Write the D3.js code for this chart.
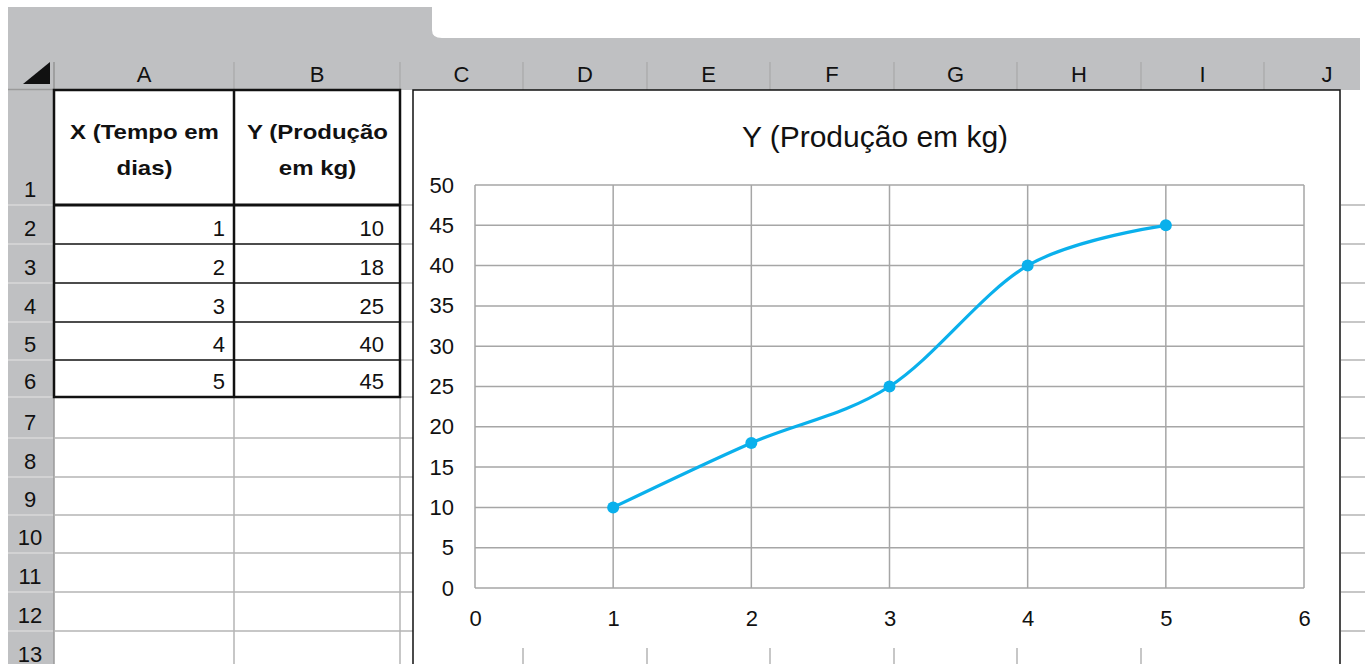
<!DOCTYPE html>
<html>
<head>
<meta charset="utf-8">
<script src="https://cdn.jsdelivr.net/npm/d3@7"></script>
<style>
  body { margin: 0; background: #fff; }
  svg text { font-family: "Liberation Sans", Arial, sans-serif; fill: #111; }
</style>
</head>
<body>
<div id="sheet"></div>
<script>
// data
var colLabels = ["A","B","C","D","E","F","G","H","I","J"];
var rowLabels = ["1","2","3","4","5","6","7","8","9","10","11","12","13"];
var headerX = ["X (Tempo em", "dias)"];
var headerY = ["Y (Produção", "em kg)"];
var dias = [1, 2, 3, 4, 5];
var producao = [10, 18, 25, 40, 45];
var xTicks = [0, 1, 2, 3, 4, 5, 6];
var yTicks = [0, 5, 10, 15, 20, 25, 30, 35, 40, 45, 50];
var chartTitle = "Y (Produção em kg)";

// layout of the spreadsheet grid
var W = 1365, H = 664;
var colEdges = [54, 234, 400, 523, 647, 770, 894, 1017, 1141, 1264, 1388];
var rowEdges = [90, 205, 244, 283, 322, 360, 397, 438, 477, 515, 553, 592, 631, 670];
var gridColor = "#b4b4b4";
var headGray = "#bfc0c2";
var blue = "#0ab0ec";

var svg = d3.select("#sheet").append("svg")
    .attr("width", W)
    .attr("height", H);

// gray header band with the tab on top left
svg.append("rect").attr("x", 8).attr("y", 7).attr("width", 424).attr("height", 40).attr("fill", headGray);
svg.append("rect").attr("x", 8).attr("y", 38).attr("width", 1352).attr("height", 52).attr("fill", headGray);
svg.append("path")
    .attr("d", "M432,30 Q432,38 442,38 L432,38 Z")
    .attr("fill", headGray);
svg.append("rect").attr("x", 8).attr("y", 90).attr("width", 46).attr("height", H - 90).attr("fill", headGray);

// select-all triangle
svg.append("path").attr("d", "M23,84 L50,84 L50,62 Z").attr("fill", "#111");

// column headers
svg.selectAll(".colsep")
    .data(colEdges.slice(0, -1))
    .enter().append("line")
    .attr("x1", function(d){return d}).attr("x2", function(d){return d})
    .attr("y1", 62).attr("y2", 90)
    .attr("stroke", "#a3a3a3").attr("stroke-width", 1);

svg.selectAll(".collabel")
    .data(colLabels)
    .enter().append("text")
    .attr("x", function(d, i){
        if(i == colLabels.length - 1) return 1327;
        return (colEdges[i] + colEdges[i+1]) / 2;
    })
    .attr("y", 82)
    .attr("text-anchor", "middle")
    .attr("font-size", 22)
    .text(function(d){return d});

// row headers
svg.append("line").attr("x1", 8).attr("x2", 54).attr("y1", 89.5).attr("y2", 89.5)
    .attr("stroke", "#9a9a9a").attr("stroke-width", 1.5);
svg.selectAll(".rowsep")
    .data(rowEdges.slice(1))
    .enter().append("line")
    .attr("x1", 8).attr("x2", 54)
    .attr("y1", function(d){return d}).attr("y2", function(d){return d})
    .attr("stroke", "#d9d9d9").attr("stroke-width", 1.5);
svg.selectAll(".rowlabel")
    .data(rowLabels)
    .enter().append("text")
    .attr("x", 30)
    .attr("y", function(d, i){return i == 0 ? 197 : rowEdges[i+1] - 8})
    .attr("text-anchor", "middle")
    .attr("font-size", 22)
    .text(function(d){return d});
svg.append("line").attr("x1", 54).attr("x2", 54).attr("y1", 62).attr("y2", H)
    .attr("stroke", "#9a9a9a").attr("stroke-width", 1.5);

// cell gridlines in columns A, B and the sliver of C
svg.selectAll(".cellrow")
    .data(rowEdges.slice(6))
    .enter().append("line")
    .attr("x1", 54).attr("x2", 413)
    .attr("y1", function(d){return d}).attr("y2", function(d){return d})
    .attr("stroke", gridColor).attr("stroke-width", 1.5);
svg.selectAll(".cellrowC")
    .data(rowEdges.slice(1, 6))
    .enter().append("line")
    .attr("x1", 400).attr("x2", 413)
    .attr("y1", function(d){return d}).attr("y2", function(d){return d})
    .attr("stroke", gridColor).attr("stroke-width", 1.5);
[234, 400].forEach(function(cx){
    svg.append("line").attr("x1", cx).attr("x2", cx).attr("y1", 90).attr("y2", H)
        .attr("stroke", gridColor).attr("stroke-width", 1.5);
});

// the table A1:B6
var table = svg.append("g");
table.append("rect").attr("x", 54).attr("y", 90).attr("width", 346).attr("height", 307)
    .attr("fill", "#fff");
rowEdges.slice(2, 6).forEach(function(ry){
    table.append("line").attr("x1", 54).attr("x2", 400).attr("y1", ry).attr("y2", ry)
        .attr("stroke", "#111").attr("stroke-width", 1.5);
});
table.append("line").attr("x1", 54).attr("x2", 400).attr("y1", 205).attr("y2", 205)
    .attr("stroke", "#111").attr("stroke-width", 3);
table.append("line").attr("x1", 234).attr("x2", 234).attr("y1", 90).attr("y2", 397)
    .attr("stroke", "#111").attr("stroke-width", 2.5);
table.append("rect").attr("x", 54).attr("y", 90).attr("width", 346).attr("height", 307)
    .attr("fill", "none").attr("stroke", "#111").attr("stroke-width", 2.5);

// header cells: the sheet's bold face is wider than Liberation, so stretch it
[headerX, headerY].forEach(function(lines, c){
    var cx = (colEdges[c] + colEdges[c+1]) / 2;
    lines.forEach(function(t, k){
        table.append("text")
            .attr("transform", "translate(" + (cx + 0.5) + "," + (139 + k * 36) + ") scale(1.2,1)")
            .attr("text-anchor", "middle")
            .attr("font-size", 20)
            .attr("font-weight", "bold")
            .text(t);
    });
});

dias.forEach(function(d, i){
    var by = rowEdges[i+2] - 8;
    table.append("text").attr("x", 225).attr("y", by)
        .attr("text-anchor", "end").attr("font-size", 22).text(d);
    table.append("text").attr("x", 384).attr("y", by)
        .attr("text-anchor", "end").attr("font-size", 22).text(producao[i]);
});

// cells right of the chart
svg.selectAll(".rightrow")
    .data(rowEdges.slice(1))
    .enter().append("line")
    .attr("x1", 1341).attr("x2", W)
    .attr("y1", function(d){return d}).attr("y2", function(d){return d})
    .attr("stroke", gridColor).attr("stroke-width", 1.5);

// chart object
var chart = svg.append("g");
chart.append("rect").attr("x", 413).attr("y", 90).attr("width", 927).attr("height", 558)
    .attr("fill", "#fff");
// column gridlines peeking below the chart
colEdges.slice(3, 9).forEach(function(cx){
    chart.append("line").attr("x1", cx).attr("x2", cx).attr("y1", 648).attr("y2", H)
        .attr("stroke", gridColor).attr("stroke-width", 1.5);
});
chart.append("path")
    .attr("d", "M413,670 L413,90 L1340,90 L1340,670")
    .attr("fill", "none").attr("stroke", "#111").attr("stroke-width", 1.5);

chart.append("text")
    .attr("x", 875).attr("y", 147)
    .attr("text-anchor", "middle")
    .attr("font-size", 30)
    .text(chartTitle);

var x = d3.scaleLinear().domain([0, 6]).range([475, 1304]);
var y = d3.scaleLinear().domain([0, 50]).range([588, 185]);

chart.selectAll(".hgrid")
    .data(yTicks)
    .enter().append("line")
    .attr("x1", x(0)).attr("x2", x(6))
    .attr("y1", function(d){return y(d)}).attr("y2", function(d){return y(d)})
    .attr("stroke", "#a6a6a6").attr("stroke-width", 1.5);
chart.selectAll(".vgrid")
    .data(xTicks)
    .enter().append("line")
    .attr("x1", function(d){return x(d)}).attr("x2", function(d){return x(d)})
    .attr("y1", y(0)).attr("y2", y(50))
    .attr("stroke", "#a6a6a6").attr("stroke-width", 1.5);

var yAxis = chart.append("g")
    .attr("transform", "translate(" + x(0) + ",0)")
    .call(d3.axisLeft(y).tickValues(yTicks).tickSize(0).tickPadding(21).tickFormat(d3.format("d")));
var xAxis = chart.append("g")
    .attr("transform", "translate(0," + y(0) + ")")
    .call(d3.axisBottom(x).tickValues(xTicks).tickSize(0).tickPadding(22).tickFormat(d3.format("d")));
[yAxis, xAxis].forEach(function(ax){
    ax.select(".domain").remove();
    ax.selectAll("text")
        .attr("font-size", 22)
        .attr("font-family", "Liberation Sans, Arial, sans-serif")
        .attr("fill", "#111");
});

// Excel's smoothed line is a uniform Catmull-Rom spline
var pts = dias.map(function(d, i){return [d, producao[i]]});
var line = d3.line()
    .x(function(d){return x(d[0])})
    .y(function(d){return y(d[1])})
    .curve(d3.curveCatmullRom.alpha(0));

chart.append("path")
    .datum(pts)
    .attr("d", line)
    .attr("fill", "none")
    .attr("stroke", blue)
    .attr("stroke-width", 3.2);

chart.selectAll(".dot")
    .data(pts)
    .enter().append("circle")
    .attr("cx", function(d){return x(d[0])})
    .attr("cy", function(d){return y(d[1])})
    .attr("r", 6)
    .attr("fill", blue);
</script>
</body>
</html>
